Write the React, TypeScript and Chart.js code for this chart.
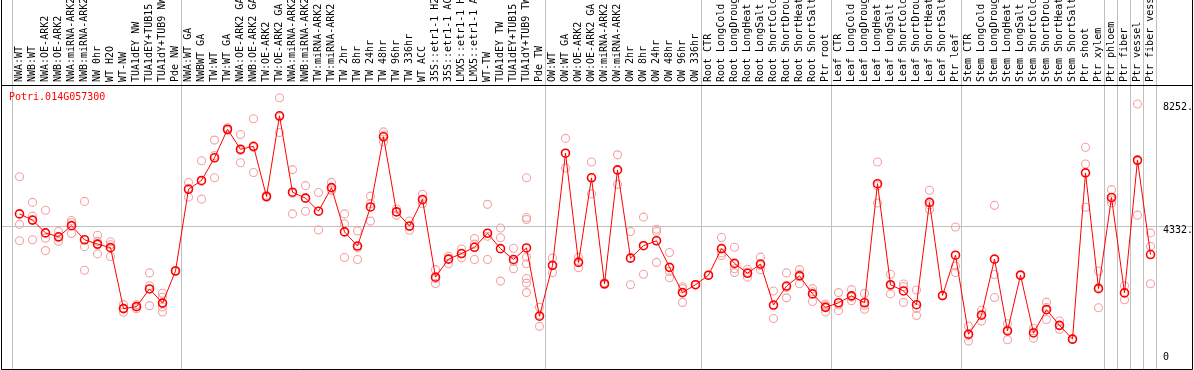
import { useEffect, useRef } from 'react';
import { Chart, registerables } from 'chart.js';

Chart.register(...registerables);

const geneName = 'Potri.014G057300';

const categories = [
  'NWA:WT', 'NWB:WT', 'NWA:OE-ARK2', 'NWB:OE-ARK2', 'NWA:miRNA-ARK2', 'NWB:miRNA-ARK2',
  'NW 0hr', 'WT H2O', 'WT-NW', 'TUA1dEY NW', 'TUA1dEY+TUB15 NW', 'TUA1dY+TUB9 NW', 'Pde NW',
  'NWA:WT GA', 'NWBWT GA', 'TW:WT', 'TW:WT GA', 'NWA:OE-ARK2 GA', 'NWB:OE-ARK2 GA', 'TW:OE-ARK2',
  'TW:OE-ARK2 GA', 'NWA:miRNA-ARK2 GA', 'NWB:miRNA-ARK2 GA', 'TW:miRNA-ARK2', 'TW:miRNA-ARK2 GA',
  'TW 2hr', 'TW 8hr', 'TW 24hr', 'TW 48hr', 'TW 96hr', 'TW 336hr', 'WT ACC',
  '35S::etr1-1 H2O', '35S::etr1-1 ACC', 'LMX5::etr1-1 H2O', 'LMX5::etr1-1 ACC', 'WT-TW',
  'TUA1dEY TW', 'TUA1dEY+TUB15 TW', 'TUA1dY+TUB9 TW', 'Pde TW',
  'OW:WT', 'OW:WT GA', 'OW:OE-ARK2', 'OW:OE-ARK2 GA', 'OW:miRNA-ARK2', 'OW:miRNA-ARK2 GA',
  'OW 2hr', 'OW 8hr', 'OW 24hr', 'OW 48hr', 'OW 96hr', 'OW 336hr',
  'Root CTR', 'Root LongCold', 'Root LongDrought', 'Root LongHeat', 'Root LongSalt',
  'Root ShortCold', 'Root ShortDrought', 'Root ShortHeat', 'Root ShortSalt', 'Ptr root',
  'Leaf CTR', 'Leaf LongCold', 'Leaf LongDrought', 'Leaf LongHeat', 'Leaf LongSalt',
  'Leaf ShortCold', 'Leaf ShortDrought', 'Leaf ShortHeat', 'Leaf ShortSalt', 'Ptr leaf',
  'Stem CTR', 'Stem LongCold', 'Stem LongDrought', 'Stem LongHeat', 'Stem LongSalt',
  'Stem ShortCold', 'Stem ShortDrought', 'Stem ShortHeat', 'Stem ShortSalt', 'Ptr shoot',
  'Ptr xylem', 'Ptr phloem', 'Ptr fiber', 'Ptr vessel', 'Ptr fiber vessel',
];

const means = [
  4704, 4506, 4098, 3973, 4328, 3879, 3741, 3628, 1684, 1747, 2311, 1860, 2885,
  5488, 5770, 6492, 7401, 6764, 6858, 5258, 7830, 5394, 5206, 4789, 5541,
  4130, 3679, 4924, 7161, 4767, 4318, 5164, 2687, 3261, 3440, 3638, 4087,
  3596, 3251, 3617, 1442,
  3063, 6638, 3157, 5854, 2477, 6105, 3293, 3690, 3847, 3000, 2195, 2446,
  2750, 3596, 3126, 2812, 3105, 1798, 2404, 2728, 2153, 1725,
  1871, 2091, 1871, 5666, 2446, 2247, 1808, 5070, 2101, 3387,
  868, 1474, 3261, 972, 2750, 909, 1651, 1150, 711, 6011, 2321,
  5226, 2185, 6418, 3408,
];

const replicates = [
  [5886, 4369, 3847], [5070, 4632, 3879], [4820, 3930, 3534], [4140, 3950, 3826],
  [4494, 4420, 4077], [5102, 3660, 2907], [4024, 3826, 3720, 3428], [3816, 3720, 3346],
  [1810, 1700, 1568], [1810, 1680, 1750], [2822, 2415, 1778], [2173, 2048, 1880, 1734, 1577],
  [2900, 2880, 2870],
  [5708, 5520, 5237], [6397, 5740, 5174], [7056, 6560, 5855], [7450, 7380, 7370],
  [7235, 6720, 6335], [7737, 6820, 6021], [5300, 5230, 5240], [8404, 7790, 7296],
  [6115, 5360, 4704], [5604, 5220, 4789], [5383, 4790, 4193], [5708, 5466, 5450],
  [4704, 4390, 3313], [4161, 3620, 3251], [5269, 5030, 4474], [7317, 7220, 7004],
  [4861, 4770, 4663], [4475, 4300, 4180], [5331, 5140, 5027], [2926, 2640, 2487],
  [3355, 3280, 3114], [3585, 3430, 3302], [3920, 3740, 3251], [5008, 3990, 3251],
  [4255, 3941, 2562], [3606, 3190, 2957],
  [5854, 4589, 4526, 3324, 3114, 2644, 2498, 2195], [1725, 1480, 1119],
  [3293, 3060, 2832], [7110, 6640, 6168], [3324, 3190, 2989], [6356, 5860, 5341],
  [2510, 2470, 2450], [6586, 6090, 5645], [4140, 3300, 2446], [4600, 3700, 2781],
  [4213, 4140, 3157], [3471, 2870, 2666], [2383, 2320, 1882], [2460, 2440, 2440],
  [2760, 2750, 2740], [3951, 3460, 3376], [3638, 2957, 2832], [2937, 2850, 2687],
  [3324, 3060, 2926], [2247, 1780, 1369], [2822, 2360, 2028], [2926, 2780, 2477],
  [2321, 2220, 1913], [1829, 1770, 1578],
  [2195, 1800, 1620], [2289, 2050, 1934], [2164, 1790, 1662], [6356, 5600, 5049],
  [2781, 2410, 2153], [2467, 2390, 1882], [2278, 1690, 1463], [5456, 4990, 4840],
  [2110, 2100, 2090], [4286, 3042, 2832],
  [1129, 830, 648], [1631, 1500, 1286], [4976, 2771, 2038], [1202, 1020, 690],
  [2770, 2740, 2740], [1056, 930, 742], [1892, 1720, 1338], [1290, 1140, 1024],
  [720, 710, 700], [6826, 6293, 4913], [2885, 2360, 1714],
  [5477, 5150, 5049], [2415, 2180, 1965], [8206, 6385, 4663], [4098, 3669, 2477],
];

const yTickValues = [0, 4332, 8252];
const yTickLabels = ['0', '4332.', '8252.'];
// 0-based index of the last category of each group (-1 = left edge)
const groupEnds = [-1, 12, 40, 52, 62, 72, 83, 84, 85, 86, 87];

const FONT = '10px "DejaVu Sans Mono", "Liberation Mono", monospace';

export default function App() {
  const ref = useRef<HTMLCanvasElement>(null);

  useEffect(() => {
    document.body.style.margin = '0';
    const canvas = ref.current;
    if (!canvas) return;

    const repPoints = replicates.flatMap((r, i) => r.map((v) => ({ x: categories[i], y: v })));

    const decor = {
      id: 'decor',
      beforeDatasetsDraw(chart: any) {
        const { ctx, scales } = chart;
        const xs = scales.x;
        const ys = scales.y;
        ctx.save();
        ctx.strokeStyle = '#c0c0c0';
        ctx.lineWidth = 1;
        const yy = Math.round(ys.getPixelForValue(yTickValues[1])) + 0.5;
        ctx.beginPath();
        ctx.moveTo(2, yy);
        ctx.lineTo(1192, yy);
        ctx.stroke();
        const p0 = xs.getPixelForValue(0);
        const step = xs.getPixelForValue(1) - p0;
        for (const g of groupEnds) {
          const px = Math.round(p0 + step * g + 5) + 0.5;
          ctx.beginPath();
          ctx.moveTo(px, 0);
          ctx.lineTo(px, 369);
          ctx.stroke();
        }
        ctx.restore();
      },
      afterDraw(chart: any) {
        const { ctx, scales, chartArea } = chart;
        const ys = scales.y;
        ctx.save();
        ctx.strokeStyle = '#000';
        ctx.lineWidth = 1;
        ctx.beginPath();
        ctx.moveTo(1.5, 0);
        ctx.lineTo(1.5, 369.5);
        ctx.lineTo(1192.5, 369.5);
        ctx.lineTo(1192.5, 0);
        ctx.moveTo(1.5, 85.5);
        ctx.lineTo(1192.5, 85.5);
        ctx.stroke();

        ctx.font = FONT;
        ctx.fillStyle = '#ff0000';
        ctx.textAlign = 'left';
        ctx.textBaseline = 'middle';
        ctx.fillText(geneName, 9, 97);

        ctx.fillStyle = '#000';
        yTickValues.forEach((v, i) => {
          const py = ys.getPixelForValue(v);
          const off = v === 0 ? -4.5 : 4.5;
          ctx.fillText(yTickLabels[i], chartArea.right + 6, py + off);
        });
        ctx.restore();
      },
    };

    const chart = new Chart(canvas, {
      type: 'line',
      data: {
        labels: categories,
        datasets: [
          {
            label: 'mean',
            data: means,
            borderColor: '#ff0000',
            borderWidth: 1,
            pointRadius: 4,
            pointBorderWidth: 1.6,
            pointBorderColor: '#ff0000',
            pointBackgroundColor: 'rgba(0,0,0,0)',
            tension: 0,
            order: 0,
          },
          {
            label: 'replicates',
            data: repPoints as any,
            showLine: false,
            pointRadius: 4,
            pointBorderWidth: 1.1,
            pointBorderColor: '#f4a3a3',
            pointBackgroundColor: 'rgba(0,0,0,0)',
            order: 1,
          },
        ],
      },
      options: {
        animation: false,
        responsive: false,
        devicePixelRatio: 1,
        layout: { padding: { left: 13, right: 37, top: 0, bottom: 1 } },
        plugins: { legend: { display: false }, tooltip: { enabled: false } },
        scales: {
          x: {
            type: 'category',
            position: 'top',
            offset: true,
            grid: { display: false, drawTicks: false },
            border: { display: false },
            ticks: {
              autoSkip: false,
              minRotation: 90,
              maxRotation: 90,
              padding: 3,
              labelOffset: 12,
              color: '#000',
              font: { family: '"DejaVu Sans Mono", "Liberation Mono", monospace', size: 10 },
            },
            afterFit: (s: any) => {
              s.height = 85;
            },
          },
          y: {
            type: 'linear',
            display: false,
            min: -94,
            max: 8812,
          },
        },
      },
      plugins: [decor],
    });

    return () => chart.destroy();
  }, []);

  return <canvas ref={ref} width={1194} height={370} style={{ display: 'block', width: 1194, height: 370 }} />;
}
